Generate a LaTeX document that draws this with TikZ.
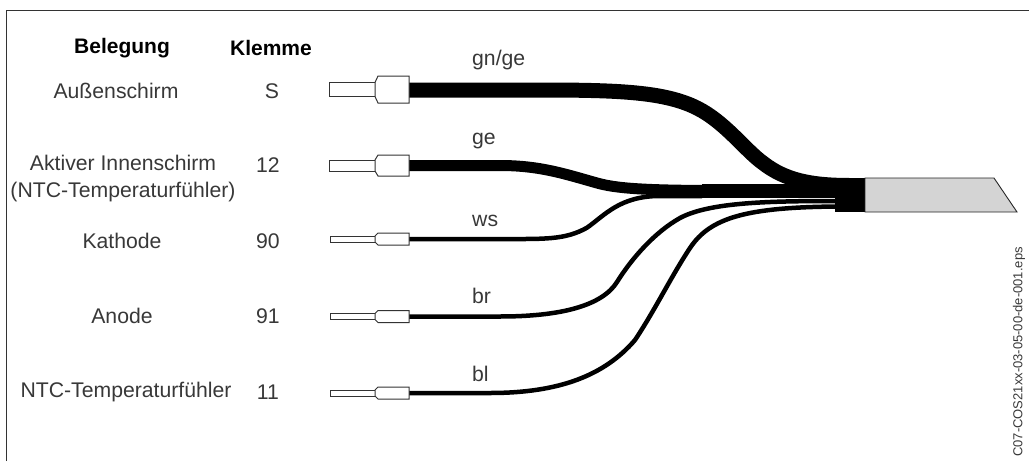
\documentclass[tikz,border=0pt]{standalone}
\usepackage{fontspec}
\setmainfont{Liberation Sans}
\definecolor{txt}{gray}{0.22}
\tikzset{x=1pt,y=-1pt,
 lab/.style={inner sep=0pt,font=\fontsize{21.2}{27}\selectfont,text=txt,align=center},
 head/.style={inner sep=0pt,font=\fontsize{21}{25}\selectfont\bfseries,text=black},
 ferr/.style={draw=black!80,line width=1pt,fill=white},
 wire/.style={draw=black,line cap=butt}}
% #1 centre, #2 half height of the sleeve, #3 half height of the pin, #4 pin start
\newcommand{\ferrule}[4]{%
 \draw[ferr] (#4,#1-#3) rectangle (375,#1+#3);
 \draw[ferr] (409,#1-#2) -- (378,#1-#2) -- (375,#1-#3) -- (375,#1+#3) -- (378,#1+#2) -- (409,#1+#2) -- cycle;}
\begin{document}
\begin{tikzpicture}
\useasboundingbox (0,0) rectangle (1029,461);
\draw[black!80,line width=1pt] (6,461) -- (6,10) -- (1029,10);
\node[head] (h1) at (122,48) {Belegung};
\node[head] (h2) at (271,48) {Klemme};
\node[lab] (t1) at (116,91) {Außenschirm};
\node[lab] (k1) at (272,91) {S};
\node[lab] (t2) at (123,178.5) {Aktiver Innenschirm\\(NTC-Temperaturfühler)};
\node[lab] (k2) at (268,165) {12};
\node[lab] (t3) at (122,241) {Kathode};
\node[lab] (k3) at (268,241) {90};
\node[lab] (t4) at (122,316) {Anode};
\node[lab] (k4) at (268,316) {91};
\node[lab] (t5) at (126,392) {NTC-Temperaturfühler};
\node[lab] (k5) at (268,392) {11};
\node[lab,anchor=west] (c1) at (472,60) {gn/ge};
\node[lab,anchor=west] (c2) at (472,141) {ge};
\node[lab,anchor=west] (c3) at (472,221) {ws};
\node[lab,anchor=west] (c4) at (472,296) {br};
\node[lab,anchor=west] (c5) at (472,374) {bl};
\node[inner sep=0pt,rotate=90,font=\fontsize{13}{14}\selectfont,text=txt,anchor=east] (c6) at (1019,247) {C07-COS21xx-03-05-00-de-001.eps};
% wires
\draw[wire,line width=15pt] (409,90) -- (540,90) .. controls (620,90) and (665,92) .. (697,108) .. controls (725,122) and (745,150) .. (763,163) .. controls (785,180) and (810,185.5) .. (850,185.5);
\draw[wire,line width=11pt] (409,165.5) -- (500,165.5) .. controls (540,165.5) and (565,174) .. (597,183) .. controls (615,188) and (640,190.5) .. (720,190.5);
\fill[black] (702,184) rectangle (840,198);
\draw[wire,line width=4.5pt] (409,239) -- (500,239) .. controls (545,239) and (565,240) .. (587,227.7) .. controls (605,215) and (620,196) .. (660,196) -- (702,196);
\draw[wire,line width=4.5pt] (409,316.5) -- (500,316.5) .. controls (560,316.5) and (602,306) .. (617,282) .. controls (632,258) and (655,232) .. (680,218) .. controls (710,202) and (770,201) .. (840,201);
\draw[wire,line width=4.5pt] (409,393) -- (490,393) .. controls (560,393) and (605,375) .. (635,340) .. controls (655,310) and (672,275) .. (690,248) .. controls (710,218) and (745,207) .. (840,206.5);
\fill[black] (835,178) rectangle (865,212);
\draw[fill=black!17,draw=black!85,line width=0.9pt] (865,178) -- (994,178) -- (1017,212) -- (865,212) -- cycle;
\ferrule{89.5}{13.5}{7}{329}
\ferrule{165.5}{10.5}{5.5}{329}
\ferrule{239}{6}{3}{330}
\ferrule{316.5}{6}{3}{330}
\ferrule{393}{6}{3}{330}
\end{tikzpicture}
\end{document}
